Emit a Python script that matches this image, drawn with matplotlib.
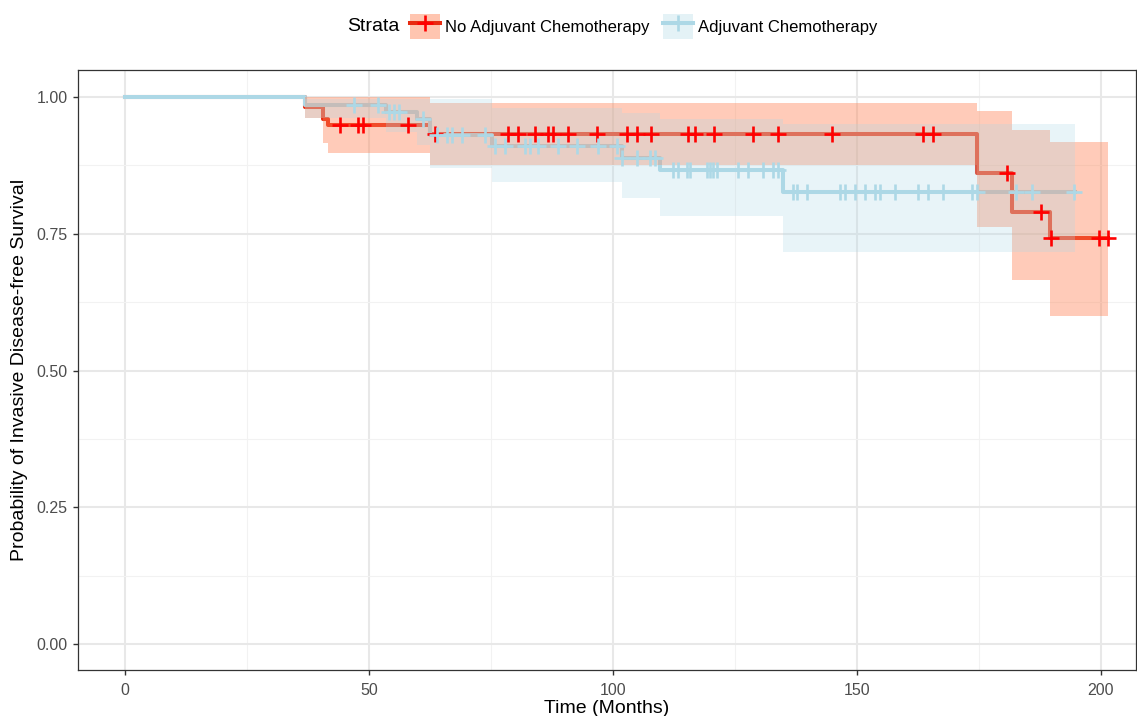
import numpy as np
import matplotlib
matplotlib.use("Agg")
import matplotlib.pyplot as plt
from matplotlib.patches import Patch
from matplotlib.lines import Line2D

plt.rcParams["font.family"] = ["Liberation Sans", "DejaVu Sans"]

# No adjuvant chemotherapy (KM steps, post)
red_time = [0, 37, 40.6, 41.6, 62.5, 174.6, 181.8, 189.6, 201.5]
red_surv = [1.0, 0.982, 0.960, 0.949, 0.933, 0.862, 0.790, 0.743, 0.743]
red_lower = [1.0, 0.962, 0.916, 0.898, 0.876, 0.763, 0.666, 0.599, 0.599]
red_upper = [1.0, 1.0, 1.0, 1.0, 0.989, 0.975, 0.940, 0.918, 0.918]
red_censor = [44.1, 47.7, 48.8, 58.0, 63.5, 78.5, 80.5, 84.0, 86.7, 87.7, 90.8,
              96.7, 102.9, 104.9, 107.8, 115.4, 116.8, 120.7, 128.7, 133.8,
              144.9, 163.5, 165.6, 180.7, 187.7, 189.8, 199.6, 201.4]

# Adjuvant chemotherapy
blue_time = [0, 37, 53.5, 59.8, 62.6, 75.2, 101.8, 109.6, 134.8, 194.7]
blue_surv = [1.0, 0.986, 0.973, 0.960, 0.930, 0.911, 0.889, 0.867, 0.826, 0.826]
blue_lower = [1.0, 0.962, 0.936, 0.912, 0.870, 0.845, 0.815, 0.782, 0.717, 0.717]
blue_upper = [1.0, 0.997, 0.997, 0.997, 0.996, 0.980, 0.971, 0.960, 0.950, 0.950]
blue_censor = [46.9, 51.8, 54.1, 55.1, 56.1, 61.1, 64.0, 66.0, 67.0, 69.1, 73.8,
               75.8, 77.9, 82.0, 83.0, 84.6, 88.7, 92.6, 96.9, 100.8, 101.9,
               104.9, 107.6, 108.6, 112.3, 113.3, 115.2, 115.8, 119.3, 119.9,
               120.5, 121.3, 125.6, 127.7, 130.7, 132.8, 133.8, 136.9, 137.7,
               139.8, 146.5, 147.5, 149.6, 151.6, 153.7, 154.7, 157.8, 162.5,
               164.5, 167.6, 173.6, 174.6, 182.6, 185.9, 194.5]

labels = ["No Adjuvant Chemotherapy", "Adjuvant Chemotherapy"]
line_c = ["#E82A10", "#ADD8E6"]
mark_c = ["#FF0000", "#ADD8E6"]
fill_c = ["#FF7F50", "#ADD8E6"]
fill_a = [0.4, 0.27]

def surv_at(times, surv, t):
    i = np.searchsorted(times, t, side="right") - 1
    return np.asarray(surv)[i]

fig = plt.figure(figsize=(11.37, 7.16), dpi=100)
ax = fig.add_axes([0.0686, 0.0642, 0.9304, 0.8378])

groups = [(red_time, red_surv, red_lower, red_upper, red_censor),
          (blue_time, blue_surv, blue_lower, blue_upper, blue_censor)]
for k, (t, s, lo, up, cens) in enumerate(groups):
    ax.step(t, s, where="post", color=line_c[k], lw=2.9, zorder=2 + k * 0.1)
for k, (t, s, lo, up, cens) in enumerate(groups):
    ax.fill_between(t, lo, up, step="post", color=fill_c[k], alpha=fill_a[k], lw=0, zorder=3 + k)
for k, (t, s, lo, up, cens) in enumerate(groups):
    ax.plot(cens, surv_at(t, s, cens), ls="none", marker="+", ms=11, mew=1.9,
            color=mark_c[k], zorder=6)

ax.set_xlim(-9.6, 207.2)
ax.set_ylim(-0.047, 1.049)
ax.set_xticks([0, 50, 100, 150, 200])
ax.set_xticks([25, 75, 125, 175], minor=True)
ax.set_yticks([0, 0.25, 0.5, 0.75, 1.0])
ax.set_yticks([0.125, 0.375, 0.625, 0.875], minor=True)
ax.set_yticklabels(["0.00", "0.25", "0.50", "0.75", "1.00"])
ax.grid(True, which="major", color="#E8E8E8", lw=1.5, zorder=0)
ax.grid(True, which="minor", color="#F2F2F2", lw=0.8, zorder=0)
ax.set_axisbelow(True)
ax.tick_params(which="major", length=3.5, width=1, color="#333333", labelsize=11.5, labelcolor="#4D4D4D", pad=4)
ax.tick_params(axis="x", which="major", pad=6)
ax.tick_params(which="minor", length=0)
for sp in ax.spines.values():
    sp.set_color("#333333")
    sp.set_linewidth(0.9)
ax.set_xlabel("Time (Months)", fontsize=14, labelpad=1)
ax.set_ylabel("Probability of Invasive Disease-free Survival", fontsize=14, labelpad=6)

handles = []
for k in range(2):
    handles.append((Patch(facecolor=fill_c[k], alpha=fill_a[k] + 0.05, lw=0),
                    Line2D([], [], color=line_c[k], lw=2.9, marker="+", ms=11, mew=1.9, mec=mark_c[k])))
fig.text(0.3055, 0.963, "Strata", fontsize=14, va="center", ha="left")
fig.legend(handles, labels, loc="center left", bbox_to_anchor=(0.3544, 0.963), ncol=2,
           frameon=False, fontsize=12, handlelength=1.8, handleheight=2.0,
           handletextpad=0.3, columnspacing=0.85, borderaxespad=0)

fig.savefig("out.png", dpi=100)
